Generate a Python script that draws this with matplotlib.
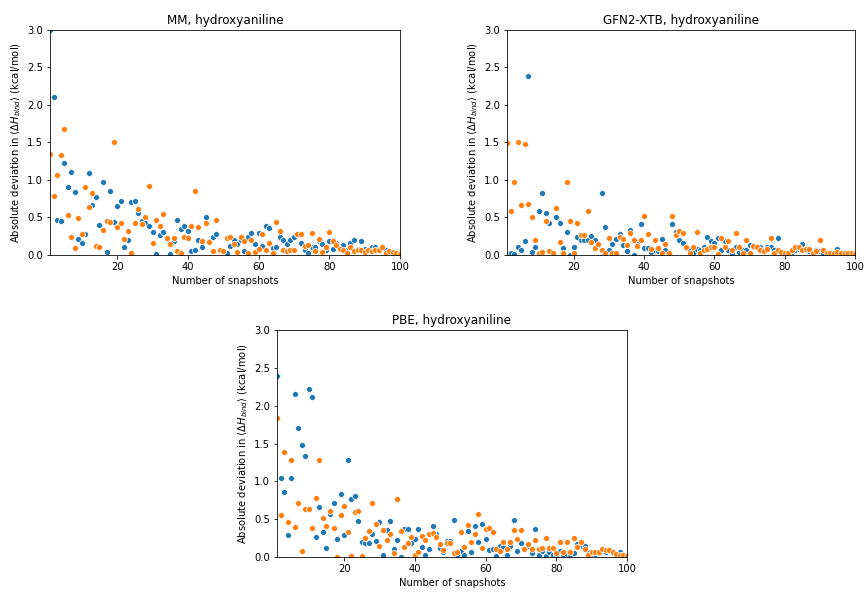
import numpy as np
import matplotlib
matplotlib.use('Agg')
import matplotlib.pyplot as plt

snapshots = np.arange(1, 101)

# MM
mm_blue = [3.0, 2.11, 0.46, 0.45, 1.22, 0.9, 1.10, 0.84, 0.21, 0.16,
           0.28, 1.09, 0.66, 0.77, 0.40, 0.97, 0.04, 0.85, 0.44, 0.65,
           0.72, 0.11, 0.20, 0.71, 0.72, 0.56, 0.45, 0.42, 0.39, 0.31,
           0.01, 0.26, 0.30, 0.21, 0.01, 0.18, 0.47, 0.35, 0.39, 0.32,
           0.05, 0.06, 0.20, 0.11, 0.51, 0.18, 0.24, 0.28, 0.07, 0.05,
           0.03, 0.12, 0.20, 0.15, 0.20, 0.05, 0.24, 0.29, 0.15, 0.29,
           0.12, 0.38, 0.36, 0.09, 0.11, 0.24, 0.20, 0.15, 0.20, 0.24,
           0.28, 0.16, 0.06, 0.02, 0.10, 0.11, 0.19, 0.14, 0.06, 0.18,
           0.08, 0.16, 0.09, 0.13, 0.06, 0.16, 0.20, 0.08, 0.18, 0.08,
           0.07, 0.11, 0.11, 0.08, 0.10, 0.06, 0.05, 0.03, 0.02, 0.0]
mm_orange = [1.34, 0.78, 1.07, 1.33, 1.68, 0.53, 0.24, 0.09, 0.49, 0.28,
             0.91, 0.64, 0.83, 0.12, 0.10, 0.33, 0.45, 0.44, 1.50, 0.37,
             0.43, 0.21, 0.32, 0.03, 0.43, 0.61, 0.41, 0.51, 0.92, 0.16,
             0.47, 0.38, 0.54, 0.22, 0.15, 0.22, 0.05, 0.02, 0.24, 0.23,
             0.38, 0.85, 0.37, 0.19, 0.43, 0.17, 0.05, 0.46, 0.06, 0.05,
             0.22, 0.24, 0.15, 0.04, 0.24, 0.19, 0.03, 0.20, 0.04, 0.08,
             0.28, 0.07, 0.16, 0.03, 0.44, 0.32, 0.07, 0.05, 0.07, 0.07,
             0.28, 0.28, 0.12, 0.13, 0.29, 0.05, 0.21, 0.04, 0.10, 0.30,
             0.19, 0.13, 0.08, 0.07, 0.03, 0.10, 0.05, 0.07, 0.06, 0.04,
             0.06, 0.05, 0.07, 0.06, 0.10, 0.03, 0.05, 0.04, 0.03, 0.01]

# GFN2-XTB
gfn_blue = [0.01, 0.02, 0.01, 0.10, 0.07, 0.19, 2.39, 0.04, 0.10, 0.58,
            0.82, 0.56, 0.42, 0.03, 0.51, 0.42, 0.09, 0.30, 0.0, 0.10,
            0.24, 0.20, 0.20, 0.20, 0.25, 0.20, 0.13, 0.82, 0.37, 0.07,
            0.14, 0.21, 0.28, 0.13, 0.05, 0.33, 0.0, 0.17, 0.41, 0.09,
            0.09, 0.04, 0.06, 0.05, 0.21, 0.06, 0.01, 0.41, 0.31, 0.20,
            0.16, 0.09, 0.06, 0.02, 0.08, 0.07, 0.10, 0.24, 0.19, 0.16,
            0.23, 0.07, 0.19, 0.06, 0.03, 0.10, 0.04, 0.06, 0.06, 0.13,
            0.11, 0.10, 0.10, 0.07, 0.11, 0.10, 0.06, 0.22, 0.03, 0.02,
            0.02, 0.04, 0.07, 0.08, 0.14, 0.06, 0.05, 0.02, 0.06, 0.05,
            0.03, 0.02, 0.01, 0.02, 0.08, 0.02, 0.01, 0.02, 0.01, 0.0]
gfn_orange = [1.49, 0.59, 0.97, 1.51, 0.67, 1.48, 0.68, 0.51, 0.20, 0.02,
              0.04, 0.45, 0.05, 0.02, 0.62, 0.17, 0.02, 0.97, 0.45, 0.02,
              0.42, 0.26, 0.27, 0.59, 0.17, 0.09, 0.14, 0.07, 0.02, 0.23,
              0.03, 0.02, 0.24, 0.21, 0.13, 0.29, 0.20, 0.12, 0.20, 0.52,
              0.28, 0.08, 0.20, 0.09, 0.02, 0.14, 0.02, 0.52, 0.27, 0.32,
              0.29, 0.10, 0.03, 0.11, 0.31, 0.03, 0.06, 0.08, 0.11, 0.10,
              0.01, 0.23, 0.10, 0.18, 0.07, 0.29, 0.10, 0.02, 0.20, 0.03,
              0.12, 0.11, 0.07, 0.05, 0.08, 0.22, 0.03, 0.07, 0.04, 0.02,
              0.03, 0.06, 0.10, 0.10, 0.06, 0.08, 0.08, 0.02, 0.05, 0.20,
              0.07, 0.03, 0.02, 0.03, 0.04, 0.02, 0.03, 0.03, 0.02, 0.01]

# PBE
pbe_blue = [2.39, 1.05, 0.86, 0.29, 1.05, 2.16, 1.70, 1.48, 1.33, 2.22,
            2.11, 0.26, 0.66, 0.33, 0.12, 0.57, 0.72, 0.24, 0.83, 0.29,
            1.28, 0.77, 0.81, 0.47, 0.20, 0.19, 0.19, 0.30, 0.21, 0.46,
            0.02, 0.36, 0.47, 0.10, 0.23, 0.0, 0.37, 0.37, 0.19, 0.24,
            0.37, 0.13, 0.02, 0.10, 0.41, 0.30, 0.12, 0.06, 0.21, 0.21,
            0.49, 0.03, 0.08, 0.03, 0.34, 0.06, 0.41, 0.20, 0.44, 0.24,
            0.09, 0.10, 0.01, 0.14, 0.13, 0.02, 0.15, 0.49, 0.08, 0.19,
            0.10, 0.15, 0.05, 0.37, 0.02, 0.08, 0.01, 0.07, 0.02, 0.01,
            0.08, 0.03, 0.04, 0.02, 0.05, 0.17, 0.14, 0.14, 0.06, 0.04,
            0.04, 0.05, 0.08, 0.07, 0.09, 0.05, 0.04, 0.06, 0.02, 0.01]
pbe_orange = [1.84, 0.55, 1.39, 0.46, 1.28, 0.40, 0.72, 0.08, 0.64, 0.64,
              0.39, 0.78, 1.28, 0.52, 0.41, 0.61, 0.38, 0.0, 0.55, 0.67,
              0.33, 0.01, 0.59, 0.61, 0.01, 0.25, 0.34, 0.72, 0.44, 0.14,
              0.36, 0.22, 0.30, 0.05, 0.77, 0.35, 0.13, 0.19, 0.26, 0.02,
              0.07, 0.28, 0.22, 0.31, 0.32, 0.26, 0.17, 0.09, 0.19, 0.19,
              0.05, 0.06, 0.33, 0.13, 0.42, 0.20, 0.30, 0.57, 0.12, 0.37,
              0.39, 0.33, 0.11, 0.08, 0.20, 0.11, 0.20, 0.36, 0.24, 0.36,
              0.11, 0.17, 0.10, 0.23, 0.10, 0.12, 0.25, 0.12, 0.12, 0.05,
              0.20, 0.06, 0.20, 0.07, 0.25, 0.13, 0.20, 0.10, 0.03, 0.06,
              0.06, 0.07, 0.10, 0.09, 0.09, 0.07, 0.04, 0.03, 0.03, 0.01]

titles = ['MM, hydroxyaniline', 'GFN2-XTB, hydroxyaniline', 'PBE, hydroxyaniline']
series = [(mm_blue, mm_orange), (gfn_blue, gfn_orange), (pbe_blue, pbe_orange)]

fig = plt.figure(figsize=(868 / 72, 592 / 72), dpi=72)
positions = [[0.0576, 0.5693, 0.4032, 0.3801],
             [0.5841, 0.5693, 0.4010, 0.3801],
             [0.3191, 0.0591, 0.4032, 0.3834]]

for pos, title, (blue, orange) in zip(positions, titles, series):
    ax = fig.add_axes(pos)
    ax.scatter(snapshots, blue, color='#1f77b4', s=36, edgecolor='white', linewidth=0.75)
    ax.scatter(snapshots, orange, color='#ff7f0e', s=36, edgecolor='white', linewidth=0.75)
    ax.set_xlim(1, 100)
    ax.set_ylim(0, 3)
    ax.set_xticks([20, 40, 60, 80, 100])
    ax.set_title(title)
    ax.set_xlabel('Number of snapshots')
    ax.set_ylabel(r'Absolute deviation in $\langle \Delta H_{bind} \rangle$ (kcal/mol)')

fig.savefig('out.png', dpi=72)
